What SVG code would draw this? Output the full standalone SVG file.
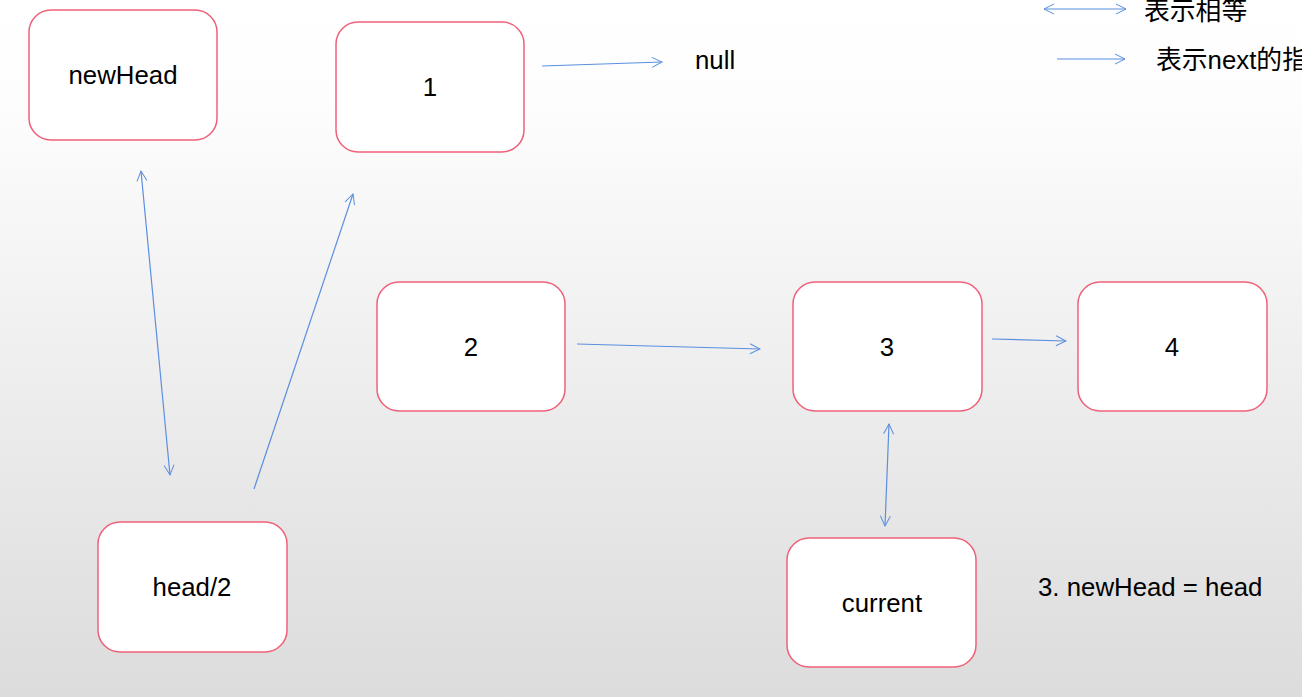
<svg xmlns="http://www.w3.org/2000/svg" width="1302" height="697" viewBox="0 0 1302 697">
<defs>
<linearGradient id="bg" x1="0" y1="0" x2="0" y2="1">
<stop offset="0" stop-color="#ffffff"/>
<stop offset="0.15" stop-color="#fdfdfd"/>
<stop offset="1" stop-color="#dcdcdc"/>
</linearGradient>
<marker id="ah" viewBox="0 0 12 12" refX="11" refY="6" markerWidth="12" markerHeight="12" markerUnits="userSpaceOnUse" orient="auto-start-reverse">
<path d="M1,1 L11,6 L1,11" fill="none" stroke="#5b8fe0" stroke-width="1"/>
</marker>
<style>
.node rect{fill:#ffffff;stroke:#ee6178;stroke-width:1.5}
.t{font-family:"Liberation Sans",Arial,"Noto Sans CJK SC",sans-serif;font-size:25.8px;fill:#000000}
.c{text-anchor:middle}
.ln{stroke:#5b8fe0;stroke-width:1.2;fill:none}
</style>
</defs>
<rect x="0" y="0" width="1302" height="697" fill="url(#bg)"/>
<g id="node-newHead" class="node"><rect x="29" y="10" width="188" height="130" rx="22"/><text class="t c" x="123" y="84">newHead</text></g>
<g id="node-1" class="node"><rect x="336" y="22" width="188" height="130" rx="22"/><text class="t c" x="430" y="96">1</text></g>
<g id="node-2" class="node"><rect x="377" y="282" width="188" height="129" rx="22"/><text class="t c" x="471" y="356">2</text></g>
<g id="node-3" class="node"><rect x="793" y="282" width="189" height="129" rx="22"/><text class="t c" x="887" y="356">3</text></g>
<g id="node-4" class="node"><rect x="1078" y="282" width="189" height="129" rx="22"/><text class="t c" x="1172" y="356">4</text></g>
<g id="node-head2" class="node"><rect x="98" y="522" width="189" height="130" rx="22"/><text class="t c" x="192" y="596">head/2</text></g>
<g id="node-current" class="node"><rect x="787" y="538" width="189" height="129" rx="22"/><text class="t c" x="882" y="612">current</text></g>
<g id="labels">
<text class="t" x="695" y="69">null</text>
<text class="t" x="1038" y="596">3. newHead = head</text>
<text class="t" x="1144" y="20">表示相等</text>
<text class="t" x="1156" y="69">表示next的指</text>
</g>
<g id="connectors">
<line class="ln" x1="1044" y1="9" x2="1126" y2="9" marker-start="url(#ah)" marker-end="url(#ah)"/>
<line class="ln" x1="1057" y1="59" x2="1125" y2="59" marker-end="url(#ah)"/>
<line class="ln" x1="542" y1="66" x2="662" y2="62" marker-end="url(#ah)"/>
<line class="ln" x1="141" y1="171" x2="170" y2="475" marker-start="url(#ah)" marker-end="url(#ah)"/>
<line class="ln" x1="254" y1="489" x2="353" y2="194" marker-end="url(#ah)"/>
<line class="ln" x1="577" y1="344" x2="760" y2="349" marker-end="url(#ah)"/>
<line class="ln" x1="992" y1="339" x2="1066" y2="341" marker-end="url(#ah)"/>
<line class="ln" x1="889" y1="424" x2="885" y2="526" marker-start="url(#ah)" marker-end="url(#ah)"/>
</g>
</svg>
